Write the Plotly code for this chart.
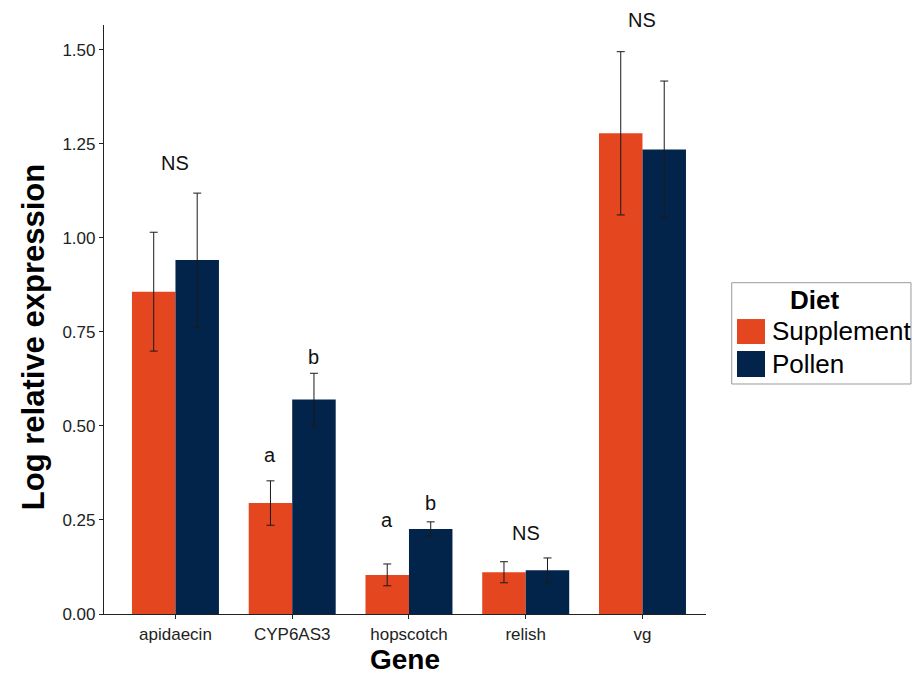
import plotly.graph_objects as go

# Gene expression by diet
genes = ["apidaecin", "CYP6AS3", "hopscotch", "relish", "vg"]
supplement_mean = [0.857, 0.295, 0.104, 0.111, 1.278]
supplement_se = [0.158, 0.059, 0.029, 0.028, 0.217]
pollen_mean = [0.941, 0.570, 0.226, 0.116, 1.235]
pollen_se = [0.178, 0.070, 0.019, 0.033, 0.182]

# Significance letters: (gene index, series offset sign, label, height)
sig_labels = [
    (0, 0, "NS", 1.20),
    (1, -1, "a", 0.423),
    (1, 1, "b", 0.683),
    (2, -1, "a", 0.250),
    (2, 1, "b", 0.295),
    (3, 0, "NS", 0.215),
    (4, 0, "NS", 1.580),
]

ORANGE = "#E4471F"
NAVY = "#03244A"
FONT = "Liberation Sans, Arial, sans-serif"
BARGAP = 0.255
YMAX = 1.566

fig = go.Figure()
idx = list(range(len(genes)))
err_style = dict(type="data", color="#1a1a1a", thickness=1, width=4, visible=True)

fig.add_trace(go.Bar(
    x=idx, y=supplement_mean, name="Supplement", marker_color=ORANGE,
    marker_line_width=0, error_y=dict(array=supplement_se, **err_style),
))
fig.add_trace(go.Bar(
    x=idx, y=pollen_mean, name="Pollen", marker_color=NAVY,
    marker_line_width=0, error_y=dict(array=pollen_se, **err_style),
))

half_bar = (1 - BARGAP) / 4
annotations = []
for gi, side, txt, yv in sig_labels:
    # vertical position in paper units so labels above the axis top stay visible
    annotations.append(dict(
        x=gi + side * half_bar, y=yv / YMAX, xref="x", yref="paper", text=txt,
        showarrow=False, font=dict(family=FONT, size=20, color="#111"),
        xanchor="center", yanchor="middle",
    ))

# Axis titles
annotations.append(dict(
    x=-0.118, y=0.47, xref="paper", yref="paper", text="<b>Log relative expression</b>",
    textangle=-90, showarrow=False, font=dict(family=FONT, size=31, color="#000"),
    xanchor="center", yanchor="middle",
))
annotations.append(dict(
    x=0.5, y=-0.0765, xref="paper", yref="paper", text="<b>Gene</b>",
    showarrow=False, font=dict(family=FONT, size=28, color="#000"),
    xanchor="center", yanchor="middle",
))

# Legend drawn as a boxed key
shapes = [
    dict(type="rect", xref="paper", yref="paper", x0=1.0427, x1=1.3405, y0=0.3905, y1=0.5625,
         line=dict(color="#9a9a9a", width=1), fillcolor="white", layer="below"),
    dict(type="rect", xref="paper", yref="paper", x0=1.0515, x1=1.098, y0=0.4584, y1=0.5008,
         line=dict(width=0), fillcolor=ORANGE),
    dict(type="rect", xref="paper", yref="paper", x0=1.0515, x1=1.098, y0=0.4024, y1=0.4465,
         line=dict(width=0), fillcolor=NAVY),
]
annotations += [
    dict(x=1.181, y=0.533, xref="paper", yref="paper", text="<b>Diet</b>", showarrow=False,
         font=dict(family=FONT, size=26, color="#000"), xanchor="center", yanchor="middle"),
    dict(x=1.1063, y=0.4805, xref="paper", yref="paper", text="Supplement", showarrow=False,
         font=dict(family=FONT, size=26, color="#000"), xanchor="left", yanchor="middle"),
    dict(x=1.1063, y=0.4244, xref="paper", yref="paper", text="Pollen", showarrow=False,
         font=dict(family=FONT, size=26, color="#000"), xanchor="left", yanchor="middle"),
]

fig.update_layout(
    width=913, height=674,
    margin=dict(l=104, r=207, t=25, b=60),
    paper_bgcolor="white", plot_bgcolor="white",
    barmode="group", bargap=BARGAP, bargroupgap=0,
    showlegend=False,
    annotations=annotations, shapes=shapes,
    font=dict(family=FONT),
)
fig.update_xaxes(
    range=[-0.612, 4.544], tickvals=idx, ticktext=genes,
    showline=True, linecolor="#222", linewidth=1.2,
    ticks="outside", ticklen=4, tickcolor="#222",
    tickfont=dict(family=FONT, size=17, color="#222"),
    showgrid=False, zeroline=False,
)
fig.update_yaxes(
    range=[0, YMAX], tickvals=[0, 0.25, 0.5, 0.75, 1.0, 1.25, 1.5],
    ticktext=["0.00", "0.25", "0.50", "0.75", "1.00", "1.25", "1.50"],
    showline=True, linecolor="#222", linewidth=1.2,
    ticks="outside", ticklen=4, tickcolor="#222",
    tickfont=dict(family=FONT, size=17, color="#222"),
    showgrid=False, zeroline=False,
)

fig.write_html("out.html")
